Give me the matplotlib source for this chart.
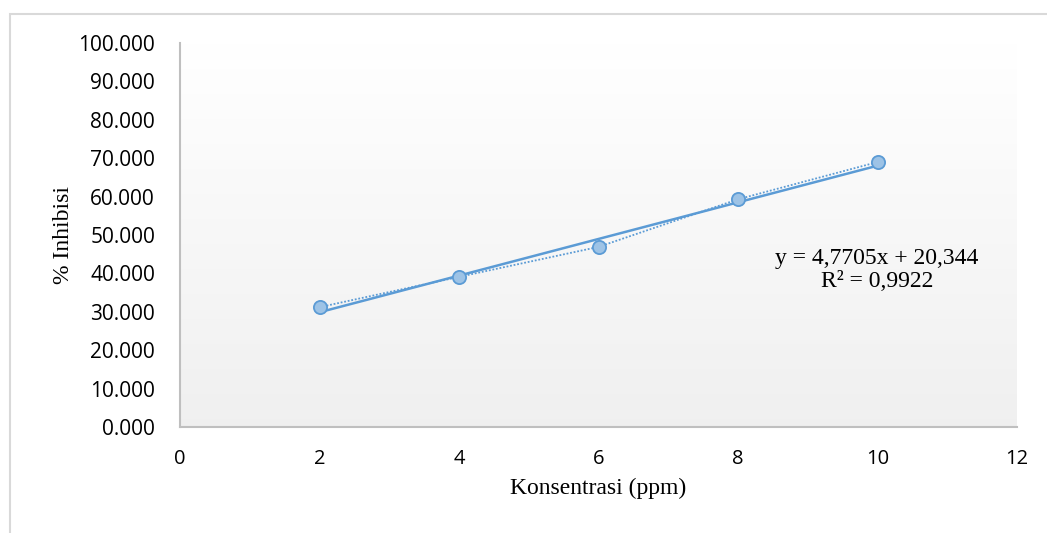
import matplotlib
matplotlib.use("Agg")
import matplotlib.pyplot as plt
import numpy as np
from matplotlib.patches import Rectangle

# ── data ────────────────────────────────────────────────────────────────────
KONSENTRASI = [2, 4, 6, 8, 10]
INHIBISI = [31.2, 39.1, 46.9, 59.3, 69.0]

# trendline as printed on the chart
SLOPE = 4.7705
INTERCEPT = 20.344
EQ_TEXT = "y = 4,7705x + 20,344\nR² = 0,9922"

X_TICKS = [0, 2, 4, 6, 8, 10, 12]
Y_TICKS = [0, 10, 20, 30, 40, 50, 60, 70, 80, 90, 100]

LINE_COLOR = "#5b9bd5"
MARKER_FILL = "#9dc3e6"
SPINE_COLOR = "#bfbfbf"
TEXT_COLOR = "#000000"

W, H = 1047, 533
fig = plt.figure(figsize=(W / 100, H / 100), dpi=100)
fig.patch.set_facecolor("white")

# outer chart border (left/top visible, others run off the image)
fig.patches.append(Rectangle((10 / W, -0.05), 1.2, 1 - 14 / H + 0.05,
                             transform=fig.transFigure, fill=False,
                             edgecolor="#d9d9d9", linewidth=1.5))

ax = fig.add_axes([180 / W, 1 - 427 / H, (1017 - 180) / W, (427 - 43) / H])

# plot-area gradient: white at top to light gray at bottom
grad = np.linspace(1.0, 0.94, 256).reshape(-1, 1)
ax.imshow(np.dstack([grad, grad, grad]), extent=(0, 1, 0, 1),
          transform=ax.transAxes, aspect="auto", zorder=0)

# dotted connecting line between points
ax.plot(KONSENTRASI, INHIBISI, color=LINE_COLOR, linestyle=(0, (1, 1)),
        linewidth=1.3, zorder=2)

# linear trendline
xs = np.array([KONSENTRASI[0], KONSENTRASI[-1]])
ax.plot(xs, SLOPE * xs + INTERCEPT, color=LINE_COLOR, linewidth=1.8, zorder=3)

ax.plot(KONSENTRASI, INHIBISI, linestyle="none", marker="o", markersize=9.5,
        markerfacecolor=MARKER_FILL, markeredgecolor=LINE_COLOR,
        markeredgewidth=1.3, zorder=4)

ax.text((877 - 180) / (1017 - 180), (427 - 270) / (427 - 43), EQ_TEXT,
        transform=ax.transAxes, ha="center", va="center",
        fontsize=17, family="Liberation Serif", color=TEXT_COLOR,
        linespacing=1.15)

ax.set_xlim(0, 12)
ax.set_ylim(0, 100)
ax.set_xticks(X_TICKS)
ax.set_yticks(Y_TICKS)
ax.set_xticklabels([str(v) for v in X_TICKS], family="Open Sans", fontsize=14.5)
ax.set_yticklabels([f"{v:.3f}" for v in Y_TICKS], family="Open Sans",
                   fontsize=15)
ax.tick_params(axis="both", length=0, colors=TEXT_COLOR)
ax.tick_params(axis="x", pad=16)
ax.tick_params(axis="y", pad=18)

for side in ["top", "right"]:
    ax.spines[side].set_visible(False)
for side in ["left", "bottom"]:
    ax.spines[side].set_color(SPINE_COLOR)
    ax.spines[side].set_linewidth(1.5)

ax.set_xlabel("Konsentrasi (ppm)", family="Liberation Serif", fontsize=17,
              color=TEXT_COLOR, labelpad=6)
ax.set_ylabel("% Inhibisi", family="Liberation Serif", fontsize=17,
              color=TEXT_COLOR, labelpad=3)

fig.savefig("out.png", dpi=100, facecolor="white")
